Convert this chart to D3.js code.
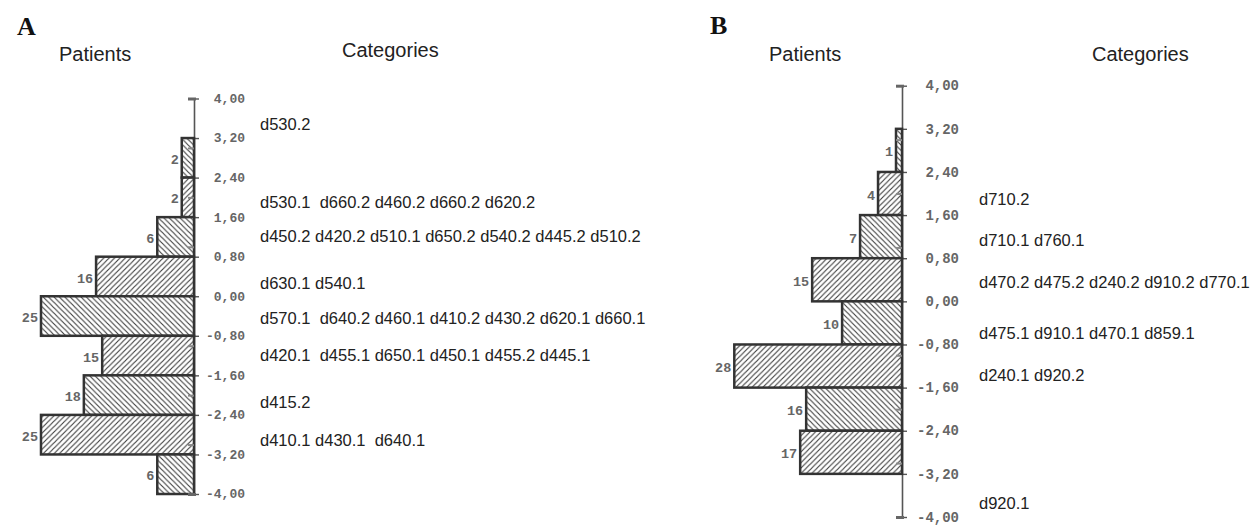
<!DOCTYPE html>
<html>
<head>
<meta charset="utf-8">
<script src="https://cdn.jsdelivr.net/npm/d3@7"></script>
<style>
  html, body { margin: 0; padding: 0; background: #ffffff; }
  svg { display: block; }
</style>
</head>
<body>
<svg id="chart" width="1254" height="525"></svg>
<script>
// ---------------- DATA ----------------
const tickValues = [4, 3.2, 2.4, 1.6, 0.8, 0, -0.8, -1.6, -2.4, -3.2, -4];
const integerMarks = [-3, -2, -1, 1, 2, 3];
const capMarks = [4, -4];
const binWidth = 0.8;

// Panel A
const binUpperA = [3.2, 2.4, 1.6, 0.8, 0, -0.8, -1.6, -2.4, -3.2];
const patientsA = [2, 2, 6, 16, 25, 15, 18, 25, 6];
const categoriesA = [
  "d530.2",
  "d530.1  d660.2 d460.2 d660.2 d620.2",
  "d450.2 d420.2 d510.1 d650.2 d540.2 d445.2 d510.2",
  "d630.1 d540.1",
  "d570.1  d640.2 d460.1 d410.2 d430.2 d620.1 d660.1",
  "d420.1  d455.1 d650.1 d450.1 d455.2 d445.1",
  "d415.2",
  "d410.1 d430.1  d640.1"
];
const categoryPosA = [3.48, 1.90, 1.22, 0.26, -0.45, -1.19, -2.15, -2.91];

// Panel B
const binUpperB = [3.2, 2.4, 1.6, 0.8, 0, -0.8, -1.6, -2.4];
const patientsB = [1, 4, 7, 15, 10, 28, 16, 17];
const categoriesB = [
  "d710.2",
  "d710.1 d760.1",
  "d470.2 d475.2 d240.2 d910.2 d770.1",
  "d475.1 d910.1 d470.1 d859.1",
  "d240.1 d920.2",
  "d920.1"
];
const categoryPosB = [1.90, 1.13, 0.35, -0.60, -1.37, -3.74];

// ---------------- DRAWING ----------------
const svg = d3.select("#chart");
const locale = d3.formatLocale({decimal: ",", thousands: ".", grouping: [3], currency: ["", ""], minus: "-"});
const fmt = locale.format(".2f");

// hatch patterns
const defs = svg.append("defs");
const hs = 5.4;
function hatch(id, dir) {
  const p = defs.append("pattern")
    .attr("id", id)
    .attr("patternUnits", "userSpaceOnUse")
    .attr("width", hs).attr("height", hs);
  p.append("rect").attr("width", hs).attr("height", hs).attr("fill", "#ffffff");
  const d = dir === "fwd"
    ? `M0,${hs} L${hs},0 M${-hs/2},${hs/2} L${hs/2},${-hs/2} M${hs/2},${hs*1.5} L${hs*1.5},${hs/2}`
    : `M0,0 L${hs},${hs} M${-hs/2},${hs/2} L${hs/2},${hs*1.5} M${hs/2},${-hs/2} L${hs*1.5},${hs/2}`;
  p.append("path").attr("d", d).attr("stroke", "#3a3a3a").attr("stroke-width", 1.1).attr("fill", "none");
}
hatch("hatchBack", "back");
hatch("hatchFwd", "fwd");

const monoFont = "'Liberation Mono', 'Courier New', monospace";
const sansFont = "'Liberation Sans', Arial, sans-serif";

function drawPanel(cfg) {
  const g = svg.append("g");
  const y = d3.scaleLinear().domain([4, -4]).range([cfg.yTop, cfg.yBot]);
  const x = d3.scaleLinear().domain([0, cfg.xMaxVal]).range([cfg.axisX, cfg.xMaxPx]);

  // headers
  g.append("text").attr("x", cfg.letterX).attr("y", cfg.letterY)
    .attr("font-family", "'Liberation Serif', 'Times New Roman', serif")
    .attr("font-weight", "bold").attr("font-size", 26).attr("fill", "#111")
    .text(cfg.letter);
  g.append("text").attr("x", cfg.patientsX).attr("y", cfg.patientsY)
    .attr("font-family", sansFont).attr("font-size", 20).attr("fill", "#222")
    .text("Patients");
  g.append("text").attr("x", cfg.catX).attr("y", cfg.catY)
    .attr("font-family", sansFont).attr("font-size", 20).attr("fill", "#222")
    .text("Categories");

  // axis (right ticks with labels)
  const axis = d3.axisRight(y).tickValues(tickValues).tickSize(5).tickSizeOuter(0).tickFormat(fmt);
  const ag = g.append("g").attr("transform", `translate(${cfg.axisX},0)`).call(axis);
  ag.select(".domain").attr("stroke", "#555").attr("stroke-width", 1.6);
  ag.selectAll(".tick line").attr("stroke", "#555").attr("stroke-width", 1.4);
  ag.selectAll(".tick text")
    .attr("x", cfg.labelEnd).attr("text-anchor", "end")
    .attr("dy", "0.3em")
    .attr("font-family", monoFont).attr("font-size", cfg.monoSize)
    .attr("font-weight", "bold")
    .attr("fill", "#666");

  // bars
  const bins = cfg.upper.map((u, i) => ({u, n: cfg.counts[i], i}));
  g.append("g").selectAll("rect").data(bins).join("rect")
    .attr("x", d => x(d.n))
    .attr("y", d => y(d.u))
    .attr("width", d => x(0) - x(d.n))
    .attr("height", d => y(d.u - binWidth) - y(d.u))
    .attr("fill", d => d.i % 2 === 0 ? "url(#hatchBack)" : "url(#hatchFwd)")
    .attr("stroke", "#333").attr("stroke-width", 2.5);

  // count labels
  g.append("g").selectAll("text").data(bins).join("text")
    .attr("x", d => x(d.n) - 3)
    .attr("y", d => y(d.u - binWidth / 2))
    .attr("dy", "0.45em")
    .attr("text-anchor", "end")
    .attr("font-family", monoFont).attr("font-size", 13.5)
    .attr("font-weight", "bold").attr("fill", "#666")
    .text(d => d.n);

  // integer marks on the left of the axis
  const minor = d3.axisLeft(y).tickValues(integerMarks).tickSize(6).tickFormat("");
  const mg = g.append("g").attr("transform", `translate(${cfg.axisX},0)`).call(minor);
  mg.select(".domain").remove();
  mg.selectAll(".tick line").attr("stroke", "#888").attr("stroke-width", 2);

  const caps = d3.axisLeft(y).tickValues(capMarks).tickSize(8).tickFormat("");
  const cg = g.append("g").attr("transform", `translate(${cfg.axisX + 2},0)`).call(caps);
  cg.select(".domain").remove();
  cg.selectAll(".tick line").attr("stroke", "#666").attr("stroke-width", 3);

  // category labels
  g.append("g").selectAll("text").data(cfg.cats).join("text")
    .attr("x", cfg.catLabelX)
    .attr("y", (d, i) => y(cfg.catPos[i]))
    .attr("dy", "0.35em")
    .attr("font-family", sansFont).attr("font-size", 16.5).attr("fill", "#222")
    .style("white-space", "pre")
    .attr("xml:space", "preserve")
    .text(d => d);
}

drawPanel({
  letter: "A", letterX: 17, letterY: 35,
  patientsX: 59, patientsY: 61, catX: 342, catY: 57,
  axisX: 194, yTop: 98.5, yBot: 494,
  xMaxVal: 25, xMaxPx: 41,
  labelEnd: 51, monoSize: 13,
  upper: binUpperA, counts: patientsA,
  cats: categoriesA, catPos: categoryPosA, catLabelX: 260
});

drawPanel({
  letter: "B", letterX: 710, letterY: 34,
  patientsX: 769, patientsY: 61, catX: 1092, catY: 61,
  axisX: 902, yTop: 85.7, yBot: 517,
  xMaxVal: 28, xMaxPx: 734.3,
  labelEnd: 57, monoSize: 14,
  upper: binUpperB, counts: patientsB,
  cats: categoriesB, catPos: categoryPosB, catLabelX: 979
});
</script>
</body>
</html>
